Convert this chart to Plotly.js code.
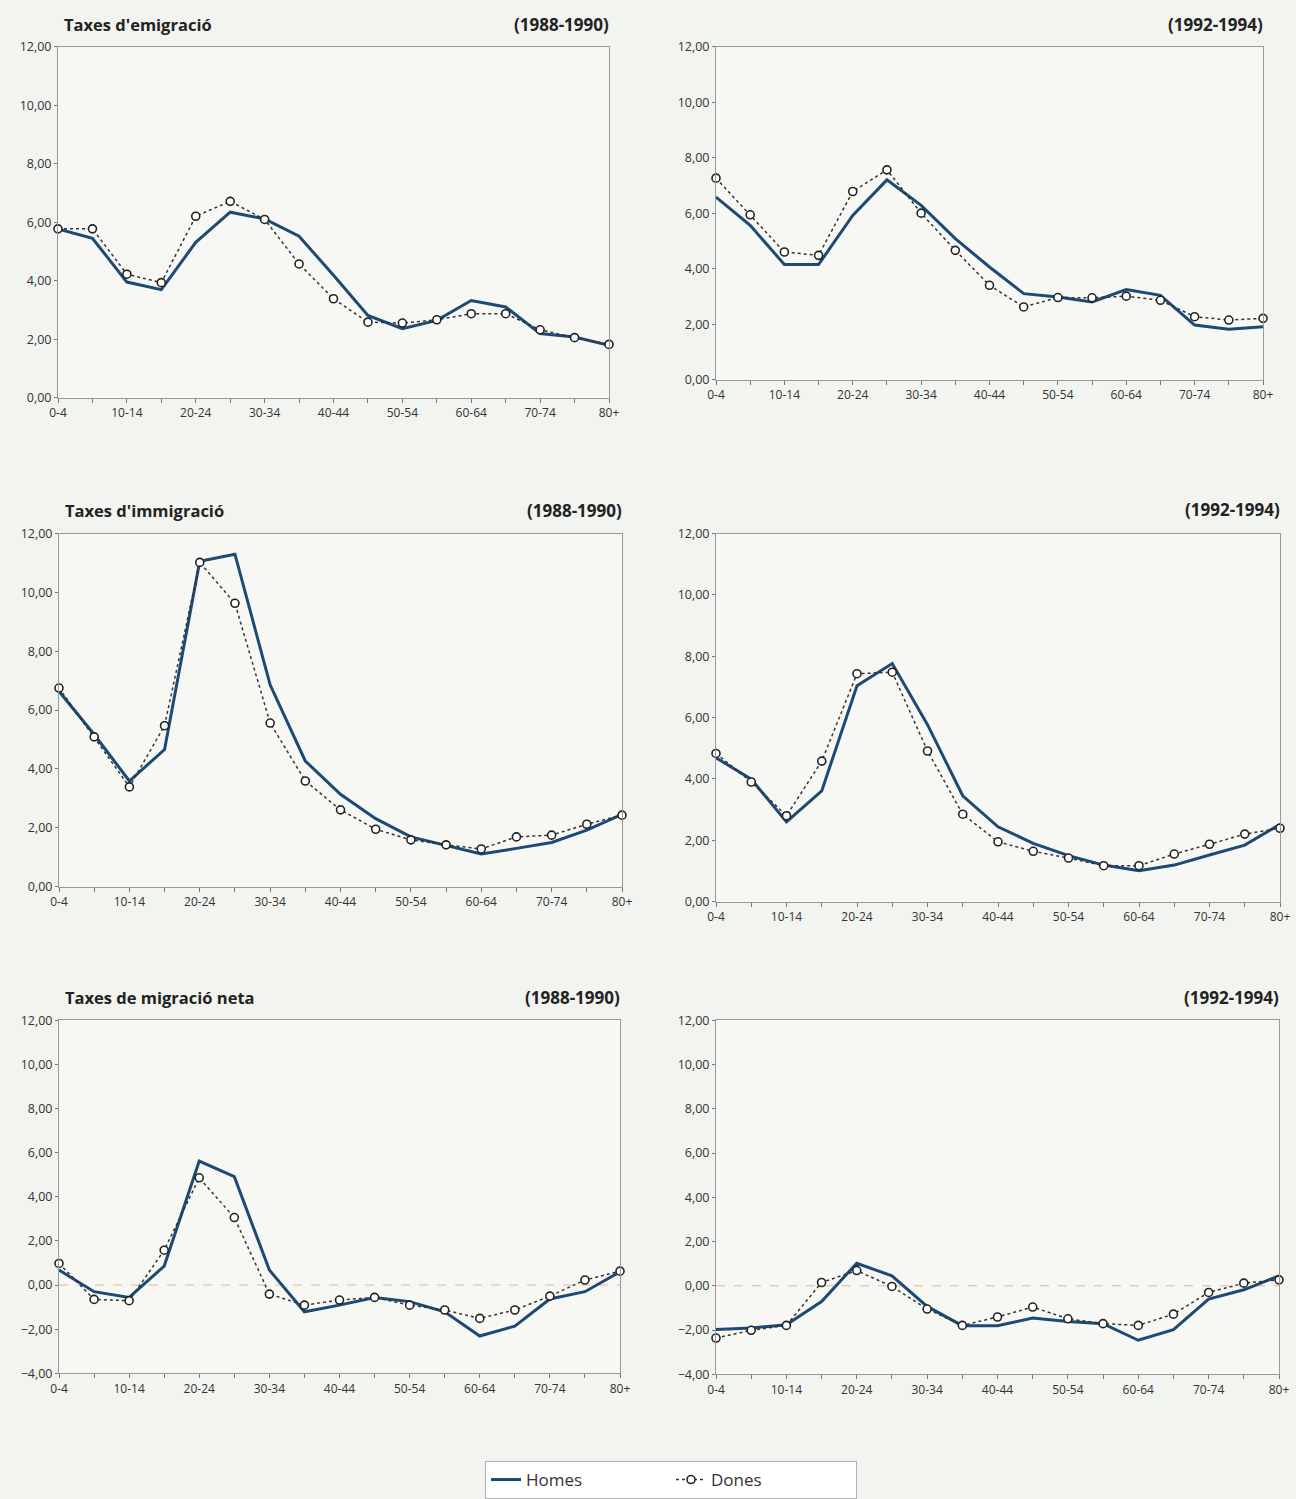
<!DOCTYPE html>
<html>
<head>
<meta charset="utf-8">
<script src="https://cdn.plot.ly/plotly-3.0.1.min.js"></script>
<style>html,body{margin:0;padding:0;background:#f2f4ef;}#chart{width:1296px;height:1499px;}</style>
</head>
<body>
<div id="chart"></div>
<script>
// ---- data ----
const ageGroups = ['0-4','5-9','10-14','15-19','20-24','25-29','30-34','35-39','40-44','45-49','50-54','55-59','60-64','65-69','70-74','75-79','80+'];
const ageTickText = ['0-4','','10-14','','20-24','','30-34','','40-44','','50-54','','60-64','','70-74','','80+'];

const emigHomes88 = [5.78,5.46,3.96,3.70,5.32,6.35,6.12,5.53,4.19,2.82,2.37,2.65,3.33,3.11,2.20,2.08,1.80];
const emigDones88 = [5.78,5.78,4.23,3.94,6.21,6.72,6.10,4.58,3.39,2.59,2.56,2.67,2.88,2.88,2.33,2.06,1.83];
const emigHomes92 = [6.59,5.57,4.16,4.16,5.93,7.21,6.29,5.09,4.07,3.11,2.99,2.81,3.26,3.05,1.98,1.83,1.92];
const emigDones92 = [7.27,5.95,4.61,4.49,6.79,7.57,6.01,4.67,3.41,2.63,2.97,2.96,3.02,2.87,2.28,2.16,2.22];

const immigHomes88 = [6.64,5.17,3.59,4.66,11.06,11.30,6.86,4.27,3.14,2.31,1.69,1.39,1.11,1.30,1.50,1.92,2.46];
const immigDones88 = [6.75,5.09,3.39,5.47,11.02,9.63,5.56,3.59,2.61,1.95,1.59,1.42,1.28,1.69,1.75,2.12,2.43];
const immigHomes92 = [4.69,3.99,2.60,3.61,7.04,7.76,5.77,3.45,2.44,1.90,1.50,1.19,1.01,1.19,1.52,1.84,2.52];
const immigDones92 = [4.83,3.90,2.80,4.58,7.43,7.48,4.91,2.85,1.95,1.64,1.42,1.17,1.17,1.55,1.87,2.20,2.39];

const netHomes88 = [0.68,-0.30,-0.56,0.86,5.62,4.91,0.68,-1.21,-0.91,-0.56,-0.75,-1.21,-2.31,-1.86,-0.63,-0.30,0.60];
const netDones88 = [0.98,-0.65,-0.71,1.58,4.86,3.06,-0.41,-0.91,-0.68,-0.56,-0.91,-1.13,-1.51,-1.13,-0.50,0.23,0.63];
const netHomes92 = [-1.98,-1.91,-1.76,-0.71,1.02,0.45,-0.93,-1.80,-1.80,-1.46,-1.61,-1.71,-2.46,-1.98,-0.60,-0.18,0.45];
const netDones92 = [-2.36,-2.01,-1.79,0.15,0.69,-0.03,-1.05,-1.79,-1.41,-0.96,-1.49,-1.71,-1.79,-1.28,-0.30,0.12,0.27];

const seriesNames = ['Homes','Dones'];
const leftTitles = ["Taxes d'emigració", "", "Taxes d'immigració", "", "Taxes de migració neta", ""];
const periodTitles = ['(1988-1990)','(1992-1994)','(1988-1990)','(1992-1994)','(1988-1990)','(1992-1994)'];

// ---- layout helpers ----
const W = 1296, H = 1499;
const panels = [
  {h: emigHomes88,  d: emigDones88,  box:[58,609,47,399],   yr:[0,12],  ty:25},
  {h: emigHomes92,  d: emigDones92,  box:[716,1263,47,381], yr:[0,12],  ty:25},
  {h: immigHomes88, d: immigDones88, box:[59,622,535,889],  yr:[0,12],  ty:512},
  {h: immigHomes92, d: immigDones92, box:[716,1280,535,904],yr:[0,12],  ty:511},
  {h: netHomes88,   d: netDones88,   box:[59,620,1023,1377],yr:[-4,12], ty:1000},
  {h: netHomes92,   d: netDones92,   box:[716,1279,1023,1378],yr:[-4,12],ty:1000}
];

const homeColor = '#1d4a74';
const traces = [];
const layout = {
  width: W, height: H,
  margin: {l:0, r:0, t:0, b:0},
  paper_bgcolor: '#f2f4ef',
  plot_bgcolor: '#f7f8f4',
  separators: ', ',
  font: {family: 'Open Sans, sans-serif', color: '#333'},
  showlegend: true,
  legend: {
    orientation: 'h', x: 671 / W, xanchor: 'center', y: 1 - 1465/H, yanchor: 'top',
    bgcolor: '#ffffff', bordercolor: '#b0b0b0', borderwidth: 1,
    font: {size: 17, color: '#333'}, entrywidth: 140, entrywidthmode: 'pixels',
    tracegroupgap: 0
  },
  annotations: [],
  shapes: []
};

panels.forEach((p, i) => {
  const n = i + 1;
  const xa = 'x' + (n === 1 ? '' : n), ya = 'y' + (n === 1 ? '' : n);
  const xKey = 'xaxis' + (n === 1 ? '' : n), yKey = 'yaxis' + (n === 1 ? '' : n);
  const [l, r, t, b] = p.box;
  layout[xKey] = {
    domain: [l / W, r / W], anchor: ya,
    type: 'category', categoryorder: 'array', categoryarray: ageGroups,
    range: [0, ageGroups.length - 1],
    tickvals: ageGroups, ticktext: ageTickText,
    ticks: 'outside', ticklen: 4, tickcolor: '#777',
    showline: true, linecolor: '#999', linewidth: 1, mirror: true,
    showgrid: false, zeroline: false,
    tickfont: {size: 12, color: '#333'}, tickangle: 0, fixedrange: true
  };
  layout[yKey] = {
    domain: [1 - b / H, 1 - t / H], anchor: xa,
    range: p.yr, dtick: 2, tick0: 0, tickformat: '.2f',
    ticks: 'outside', ticklen: 3, tickcolor: '#777',
    showline: true, linecolor: '#999', linewidth: 1, mirror: true,
    showgrid: false, zeroline: false,
    tickfont: {size: 12.5, color: '#333'}, fixedrange: true
  };
  traces.push({
    x: ageGroups, y: p.h, xaxis: xa, yaxis: ya, type: 'scatter', mode: 'lines',
    name: seriesNames[0], line: {color: homeColor, width: 3}, showlegend: i === 0,
    cliponaxis: false
  });
  traces.push({
    x: ageGroups, y: p.d, xaxis: xa, yaxis: ya, type: 'scatter', mode: 'lines+markers',
    name: seriesNames[1], line: {color: '#333', width: 1.5, dash: 'dot'},
    marker: {symbol: 'circle', size: 8, color: '#ffffff', line: {color: '#222', width: 1.6}},
    showlegend: i === 0, cliponaxis: false
  });
  if (leftTitles[i]) {
    layout.annotations.push({
      text: '<b>' + leftTitles[i] + '</b>', xref: 'paper', yref: 'paper',
      x: (l + 4) / W, y: 1 - p.ty / H, xanchor: 'left', yanchor: 'middle',
      showarrow: false, font: {size: 16.5, color: '#222'}
    });
  }
  layout.annotations.push({
    text: '<b>' + periodTitles[i] + '</b>', xref: 'paper', yref: 'paper',
    x: (r + 2) / W, y: 1 - p.ty / H, xanchor: 'right', yanchor: 'middle',
    showarrow: false, font: {size: 17, color: '#222'}
  });
  if (p.yr[0] < 0) {
    layout.shapes.push({
      type: 'line', xref: xa + ' domain', yref: ya, x0: 0, x1: 1, y0: 0, y1: 0,
      line: {color: '#e2b48e', width: 1, dash: 'dash'}, layer: 'below'
    });
  }
});

Plotly.newPlot('chart', traces, layout, {displayModeBar: false, staticPlot: true});
</script>
</body>
</html>
